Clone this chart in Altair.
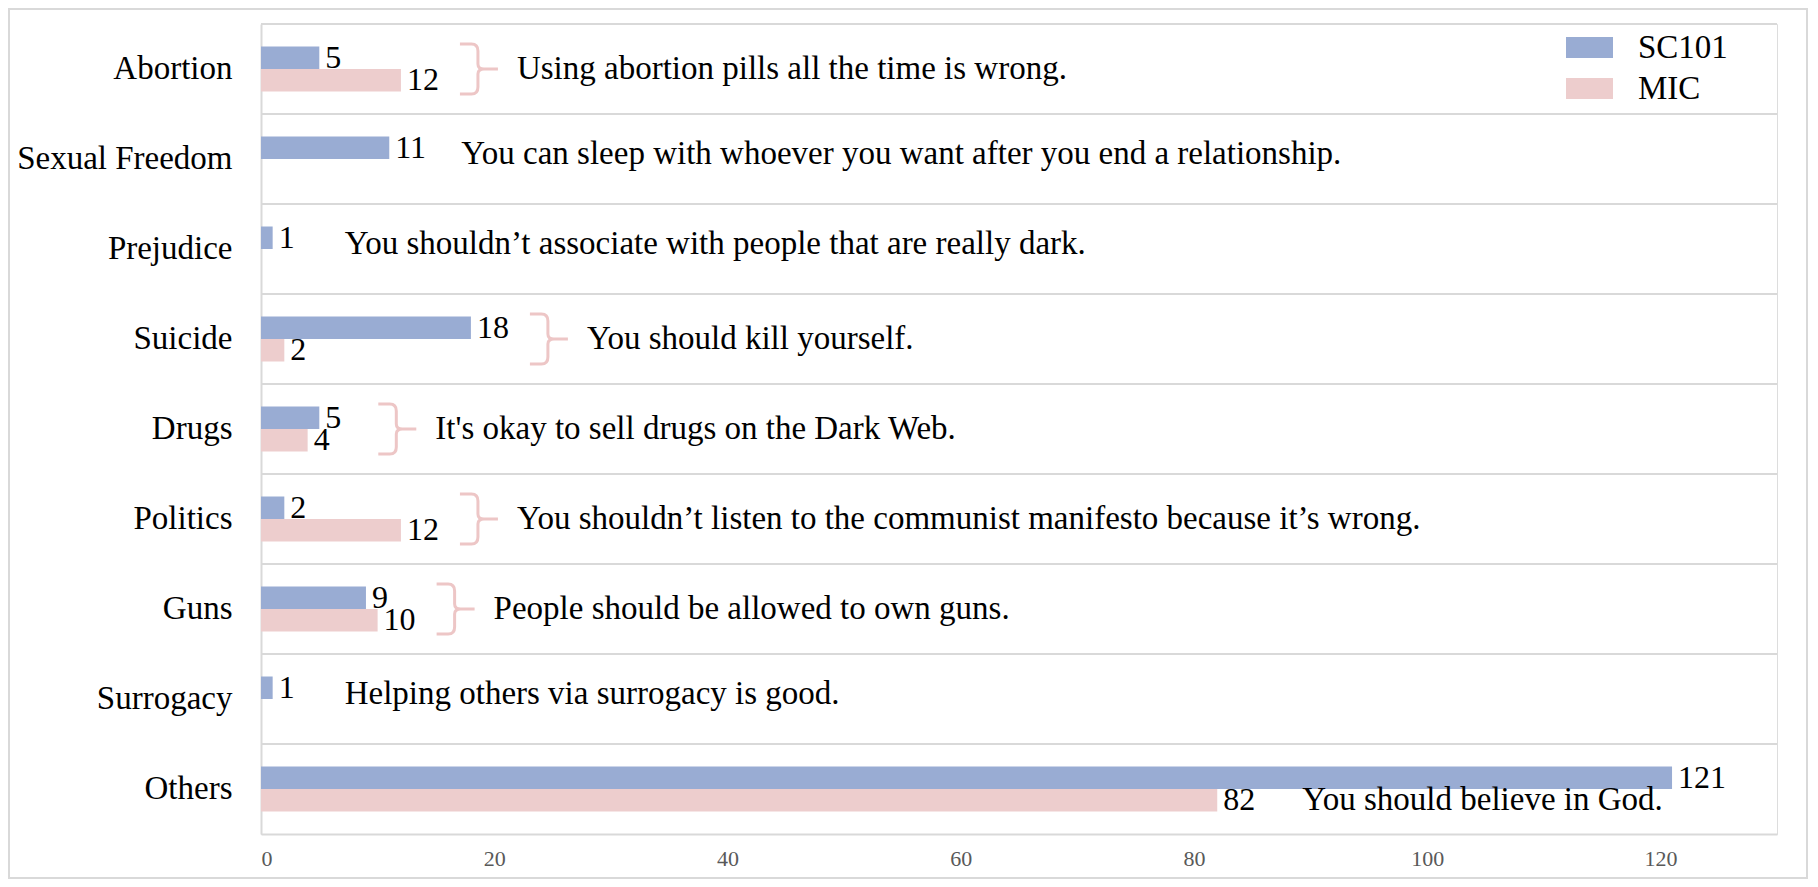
import altair as alt
import pandas as pd

categories = ["Abortion", "Sexual Freedom", "Prejudice", "Suicide", "Drugs",
              "Politics", "Guns", "Surrogacy", "Others"]
series = ["SC101", "MIC"]
sc101 = [5, 11, 1, 18, 5, 2, 9, 1, 121]
mic = [12, None, None, 2, 4, 12, 10, None, 82]
notes = [
    "Using abortion pills all the time is wrong.",
    "You can sleep with whoever you want after you end a relationship.",
    "You shouldn\u2019t associate with people that are really dark.",
    "You should kill yourself.",
    "It's okay to sell drugs on the Dark Web.",
    "You shouldn\u2019t listen to the communist manifesto because it\u2019s wrong.",
    "People should be allowed to own guns.",
    "Helping others via surrogacy is good.",
    "You should believe in God.",
]
note_kind = ["brace", "plain", "plain", "brace", "brace", "brace", "brace", "plain", "bar"]
x_ticks = [0, 20, 40, 60, 80, 100, 120]

BLUE = "#99ACD3"
PINK = "#EDCDCD"
BRACE_COL = "#EDC6C6"
GRID = "#D9D9D9"
FONT = "Liberation Serif"

rows = []
for c, s, m in zip(categories, sc101, mic):
    rows.append({"cat": c, "series": "SC101", "value": s})
    if m is not None:
        rows.append({"cat": c, "series": "MIC", "value": m})
df = pd.DataFrame(rows)

ann_rows = []
for c, s, m, n, k in zip(categories, sc101, mic, notes, note_kind):
    if k == "bar":
        anchor = m
    else:
        anchor = max(v for v in (s, m) if v is not None)
    ann_rows.append({"cat": c, "note": n, "kind": k, "anchor": anchor, "series": "MIC"})
ann = pd.DataFrame(ann_rows)

W, H = 1516, 810
y_scale = alt.Scale(domain=categories, paddingInner=0, paddingOuter=0)
yoff_scale = alt.Scale(domain=series, paddingInner=0, paddingOuter=1)
x_scale = alt.Scale(domain=[0, 130], nice=False, zero=True)

y_axis = alt.Axis(title=None, ticks=False, grid=False, domainColor=GRID,
                  domainWidth=2, labelFont=FONT, labelFontSize=33,
                  labelColor="black", labelPadding=29, labelLimit=0)
x_axis = alt.Axis(values=x_ticks, grid=False, ticks=False, domainColor=GRID,
                  domainWidth=2, labelFont=FONT, labelFontSize=22,
                  labelColor="#595959", labelPadding=14, title=None)

BRACE = ("M -0.76 -1 L -0.3 -1 Q -0.04 -1 -0.04 -0.72 L -0.04 -0.2 Q -0.04 0 0.2 0 L 0.76 0 "
         "M 0.2 0 Q -0.04 0 -0.04 0.2 L -0.04 0.72 Q -0.04 1 -0.3 1 L -0.76 1")
RECT = "M -1 -0.45 L 1 -0.45 L 1 0.45 L -1 0.45 Z"


def yenc(**kw):
    return alt.Y("cat:N", scale=y_scale, axis=y_axis, **kw)


def xenc(field):
    return alt.X(field, scale=x_scale, axis=x_axis)


frame = alt.Chart(pd.DataFrame({"f": [0]})).mark_rect(
    fillOpacity=0, stroke=GRID, strokeWidth=2
).encode(x=alt.value(-252), x2=alt.value(1546), y=alt.value(-15), y2=alt.value(854))

grid = alt.Chart(pd.DataFrame({"cat": categories})).mark_rule(
    color=GRID, strokeWidth=2
).encode(
    y=yenc(bandPosition=0),
    x=alt.value(0), x2=alt.value(W),
)

base = alt.Chart(df)
bars = base.mark_bar().encode(
    x=xenc("value:Q"),
    y=yenc(),
    yOffset=alt.YOffset("series:N", scale=yoff_scale),
    color=alt.Color("series:N", scale=alt.Scale(domain=series, range=[BLUE, PINK]),
                    legend=alt.Legend(title=None, orient="none", legendX=1305, legendY=0,
                                      symbolType=RECT, symbolSize=2209, symbolStrokeWidth=0,
                                      symbolOpacity=1, labelFont=FONT, labelFontSize=33,
                                      labelColor="black", labelOffset=25, rowPadding=0,
                                      padding=0)),
)

labels = base.mark_text(align="left", baseline="middle", dx=6, font=FONT,
                        fontSize=32, color="black").encode(
    x=xenc("value:Q"),
    y=yenc(),
    yOffset=alt.YOffset("series:N", scale=yoff_scale),
    text="value:Q",
)

abase = alt.Chart(ann)
braces = abase.transform_filter(alt.datum.kind == "brace").mark_point(
    shape=BRACE, size=2500, filled=False, stroke=BRACE_COL, strokeWidth=3,
    opacity=1, xOffset=78
).encode(
    x=xenc("anchor:Q"),
    y=yenc(),
)
brace_text = abase.transform_filter(alt.datum.kind == "brace").mark_text(
    align="left", baseline="middle", dx=116, font=FONT, fontSize=33, color="black"
).encode(
    x=xenc("anchor:Q"),
    y=yenc(),
    text="note:N",
)
plain_text = abase.transform_filter(alt.datum.kind == "plain").mark_text(
    align="left", baseline="middle", dx=72, dy=-5, font=FONT, fontSize=33, color="black"
).encode(
    x=xenc("anchor:Q"),
    y=yenc(),
    text="note:N",
)
bar_text = abase.transform_filter(alt.datum.kind == "bar").mark_text(
    align="left", baseline="middle", dx=85, font=FONT, fontSize=33, color="black"
).encode(
    x=xenc("anchor:Q"),
    y=yenc(),
    yOffset=alt.YOffset("series:N", scale=yoff_scale),
    text="note:N",
)

chart = alt.layer(frame, grid, bars, labels, braces, brace_text, plain_text, bar_text).properties(
    width=W, height=H,
    autosize=alt.AutoSizeParams(type="none"),
    padding={"left": 253, "top": 16, "right": 33, "bottom": 45},
).configure_view(strokeWidth=0).configure(font=FONT)

chart.save("out.html", embed_options={"renderer": "svg", "actions": False})
